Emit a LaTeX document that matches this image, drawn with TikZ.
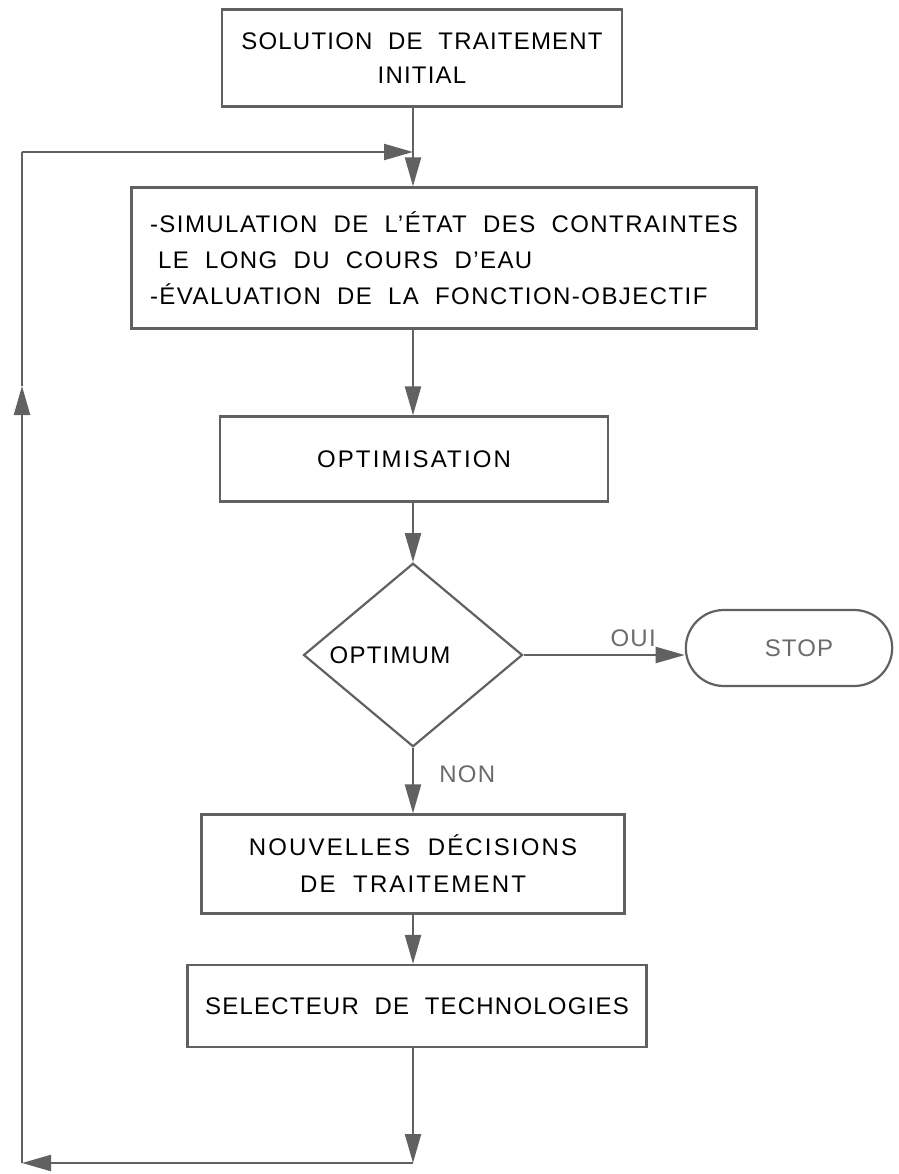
\documentclass[tikz,border=0pt]{standalone}
\usepackage{fontspec}
\setmainfont{Liberation Sans}[LetterSpace=5,WordSpace=2]
\usetikzlibrary{arrows.meta}
\usetikzlibrary{positioning}
\usetikzlibrary{shapes.geometric}
\usetikzlibrary{shapes.misc}

\definecolor{linegray}{gray}{0.38}
\definecolor{textgray}{gray}{0.42}
\tikzset{
    stepbox/.style={
        rectangle, draw=linegray, line width=2.2pt,
        align=center, inner sep=0pt,
    },
    flow/.style={
        draw=linegray, line width=2.2pt,
        -{Triangle[length=29pt,width=16pt]},
    },
    plainflow/.style={draw=linegray, line width=2.2pt},
}

\begin{document}
\begin{tikzpicture}[x=1pt, y=-1pt,
        every node/.style={font=\fontsize{24}{36}\selectfont, text=black}]
        \useasboundingbox (0,0) rectangle (898,1174);

        \coordinate (join) at (413,152);
        \coordinate (bottom) at (413,1163);
        \coordinate (cornerlow) at (22,1163);
        \coordinate (cornerhigh) at (22,152);
        \coordinate (upmark) at (22,386);

        \node (init) at(422,58) [
            stepbox,
            minimum width=400pt, minimum height=97pt,
            font=\fontsize{24}{34}\selectfont,
        ] {SOLUTION DE TRAITEMENT\\INITIAL};

        \node (simul) at(444,258) [
            stepbox, align=left,
            minimum width=625pt, minimum height=141pt,
        ] {\addfontfeatures{LetterSpace=6}-SIMULATION DE L'ÉTAT DES CONTRAINTES\\
           \addfontfeatures{LetterSpace=6}\hphantom{-}LE LONG DU COURS D'EAU\\
           \addfontfeatures{LetterSpace=6}-ÉVALUATION DE LA FONCTION-OBJECTIF};

        \node (optim) at(414,459) [
            stepbox,
            minimum width=388pt, minimum height=85pt,
        ] {\addfontfeatures{LetterSpace=9}OPTIMISATION};

        \node (test) at(413,655) [
            diamond, draw=linegray, line width=2.2pt, inner sep=0pt,
            minimum width=219pt, minimum height=142pt,
        ] {OPTIMUM\hspace*{46pt}};

        \node (stop) at(789,648) [
            rounded rectangle, draw=linegray, line width=2.2pt,
            minimum width=213pt, minimum height=76pt,
            text=textgray,
        ] {\hspace*{20pt}STOP};

        \node (decis) at(413,864) [
            stepbox,
            minimum width=423pt, minimum height=99pt,
            font=\fontsize{24}{37}\selectfont,
        ] {\addfontfeatures{LetterSpace=9}NOUVELLES DÉCISIONS\\
           \addfontfeatures{LetterSpace=9}DE TRAITEMENT};

        \node (select) at(417,1006) [
            stepbox,
            minimum width=459pt, minimum height=82pt,
        ] {SELECTEUR DE TECHNOLOGIES};

        % main chain
        \draw[plainflow] (init.south -| join) -- (join);
        \draw[flow] (join) -- (join |- simul.north);
        \draw[flow] (simul.south -| join) -- (join |- optim.north);
        \draw[flow] (optim.south -| join) -- (join |- test.north);
        \draw[flow] (test.east) -- (test.east -| stop.west)
            node (lbloui) [pos=0.68, above=4pt, text=textgray] {OUI};
        \draw[flow] (test.south -| join) -- (join |- decis.north)
            node (lblnon) [pos=0.4, right=22pt, text=textgray] {NON};
        \draw[flow] (decis.south -| join) -- (join |- select.north);

        % loop back
        \draw[flow] (select.south -| join) -- (bottom);
        \draw[flow] (bottom) -- (cornerlow);
        \draw[flow] (cornerlow) -- (upmark);
        \draw[plainflow] (upmark) -- (cornerhigh);
        \draw[flow] (cornerhigh) -- (join);
\end{tikzpicture}
\end{document}
